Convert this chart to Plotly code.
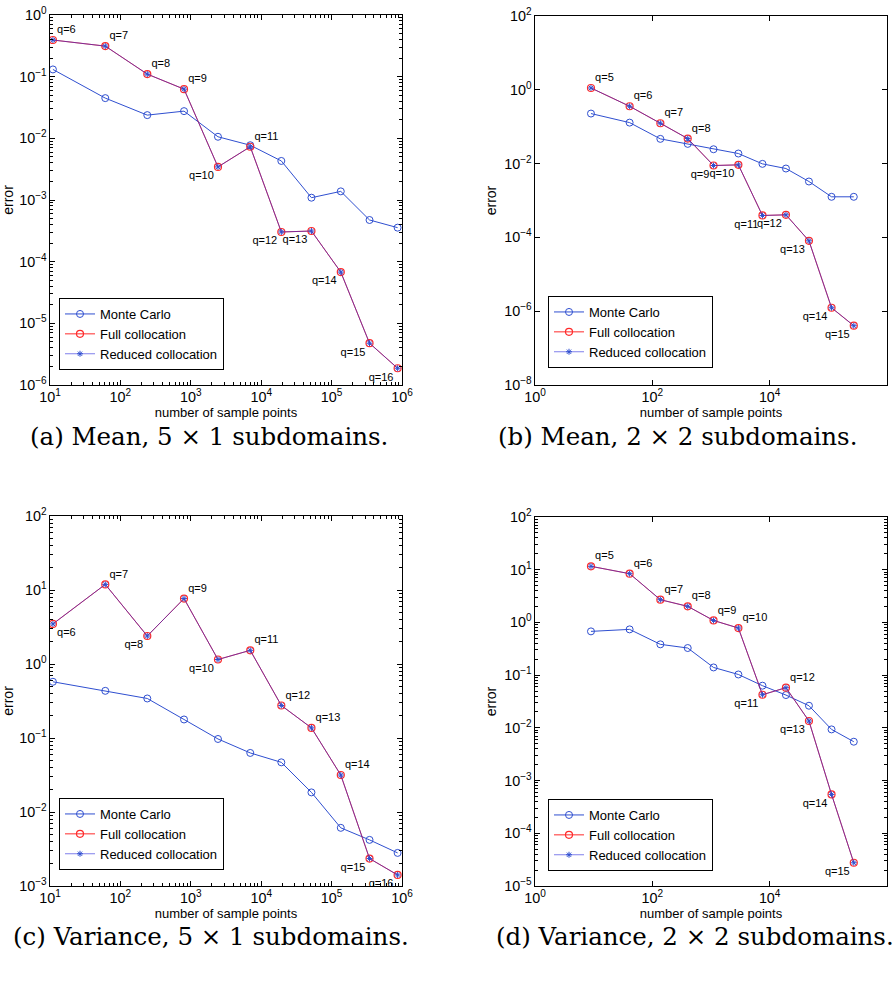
import plotly.graph_objects as go
import numpy as np

# ---------------- data ----------------
# sparse-grid sizes (number of sample points)
N_5x1 = [11, 61, 241, 801, 2433, 6993, 19313, 51713, 135073, 345665, 866465]
N_2x2 = [9, 41, 137, 401, 1105, 2929, 7537, 18945, 46721, 113409, 271617]
Q_5x1 = [6, 7, 8, 9, 10, 11, 12, 13, 14, 15, 16]
Q_2x2 = [5, 6, 7, 8, 9, 10, 11, 12, 13, 14, 15]

# (a) Mean, 5x1
mean5_mc = [0.131, 0.0449, 0.0238, 0.0276, 0.0106, 0.00773, 0.00430, 0.00109, 0.00138, 4.74e-4, 3.56e-4]
mean5_full = [0.393, 0.313, 0.110, 0.0628, 0.00344, 0.00730, 3.03e-4, 3.14e-4, 6.78e-5, 4.76e-6, 1.87e-6]
mean5_red = [0.393, 0.313, 0.110, 0.0628, 0.00344, 0.00730, 3.03e-4, 3.14e-4, 6.78e-5, 4.76e-6, 1.87e-6]

# (b) Mean, 2x2
mean4_mc = [0.227, 0.129, 0.0468, 0.0342, 0.0245, 0.01875, 0.00984, 0.00735, 0.00327, 0.00126, 0.00126]
mean4_full = [1.12, 0.358, 0.124, 0.0477, 0.00887, 0.00924, 3.93e-4, 4.09e-4, 8.09e-5, 1.24e-6, 4.04e-7]
mean4_red = [1.12, 0.358, 0.124, 0.0477, 0.00887, 0.00924, 3.93e-4, 4.09e-4, 8.09e-5, 1.24e-6, 4.04e-7]

# (c) Variance, 5x1
var5_mc = [0.575, 0.434, 0.342, 0.178, 0.0970, 0.0628, 0.0469, 0.0184, 0.00611, 0.00420, 0.00280]
var5_full = [3.48, 11.9, 2.39, 7.66, 1.15, 1.53, 0.275, 0.137, 0.0316, 0.00235, 0.00141]
var5_red = [3.48, 11.9, 2.39, 7.66, 1.15, 1.53, 0.275, 0.137, 0.0316, 0.00235, 0.00141]

# (d) Variance, 2x2
var4_mc = [0.676, 0.738, 0.384, 0.327, 0.140, 0.103, 0.0631, 0.0419, 0.0263, 0.00935, 0.00546]
var4_full = [11.6, 8.41, 2.70, 2.02, 1.09, 0.783, 0.0425, 0.0578, 0.0135, 5.46e-4, 2.76e-5]
var4_red = [11.6, 8.41, 2.70, 2.02, 1.09, 0.783, 0.0425, 0.0578, 0.0135, 5.46e-4, 2.76e-5]

CAPTIONS = ["(a) Mean, 5 × 1 subdomains.", "(b) Mean, 2 × 2 subdomains.",
            "(c) Variance, 5 × 1 subdomains.", "(d) Variance, 2 × 2 subdomains."]
SERIES_NAMES = ["Monte Carlo", "Full collocation", "Reduced collocation"]
X_TITLE = "number of sample points"
Y_TITLE = "error"
# plotly prints 10^0 and 10^1 as "1" and "10": show them as powers like the rest
TICK_ALIAS = {"1": "10<sup>0</sup>", "10": "10<sup>1</sup>"}

# ---------------- styles ----------------
TR, BR, BL = "top right", "bottom right", "bottom left"
LABEL_POS = [
    [TR, TR, TR, TR, BL, TR, BL, BL, BL, BL, BL],
    [TR, TR, TR, TR, BL, BL, BL, BL, BL, BL, BL],
    [BR, TR, BL, TR, BL, TR, TR, TR, TR, BL, BL],
    [TR, TR, TR, TR, TR, TR, BL, TR, BL, BL, BL],
]
SANS = "Liberation Sans, Arial, sans-serif"
SERIF = "DejaVu Serif, serif"
BLUE = "#2f4fd0"
RED = "#ff2a2a"
RED_BLUE_OVER = "rgba(40,40,220,0.6)"

panels = [
    dict(x=N_5x1, q=Q_5x1, mc=mean5_mc, full=mean5_full, red=mean5_red),
    dict(x=N_2x2, q=Q_2x2, mc=mean4_mc, full=mean4_full, red=mean4_red),
    dict(x=N_5x1, q=Q_5x1, mc=var5_mc, full=var5_full, red=var5_red),
    dict(x=N_2x2, q=Q_2x2, mc=var4_mc, full=var4_full, red=var4_red),
]

W, H = 896, 983
# plot areas in pixels (left, right, top, bottom)
AREAS = [(50, 402, 15, 385), (535, 887, 16, 385), (50, 402, 516, 886), (535, 887, 517, 886)]
XRANGES = [(1, 6), (0, 6), (1, 6), (0, 6)]
YRANGES = [(-6, 0), (-8, 2), (-3, 2), (-5, 2)]
XDTICK = [1, 2, 1, 2]
YDTICK = [1, 2, 1, 1]
XMINOR = [True, False, True, False]
YMINOR = [True, False, True, True]
LEGEND_POS = [(59, 298), (548, 296), (59, 798), (548, 799)]
CAPTION_POS = [(209, 436), (496, 436), (211, 936), (494, 936)]
CAPTION_ANCHOR = ["center", "left", "center", "left"]

fig = go.Figure()
layout = dict(width=W, height=H, margin=dict(l=0, r=0, t=0, b=0, autoexpand=False),
              paper_bgcolor="white", plot_bgcolor="white", annotations=[])

for i, p in enumerate(panels):
    k = "" if i == 0 else str(i + 1)
    xa, ya = "x" + k, "y" + k
    leg = "legend" + k
    fig.add_trace(go.Scatter(x=p["x"], y=p["mc"], name=SERIES_NAMES[0], mode="lines+markers",
                             line=dict(color=BLUE, width=1),
                             marker=dict(symbol="circle-open", size=7, color=BLUE, line=dict(width=1)),
                             xaxis=xa, yaxis=ya, legend=leg))
    fig.add_trace(go.Scatter(x=p["x"], y=p["full"], name=SERIES_NAMES[1], mode="lines+markers",
                             line=dict(color=RED, width=1),
                             marker=dict(symbol="circle-open", size=7, color=RED, line=dict(width=1.2)),
                             xaxis=xa, yaxis=ya, legend=leg))
    fig.add_trace(go.Scatter(x=p["x"], y=p["red"], name=SERIES_NAMES[2], mode="lines+markers+text",
                             line=dict(color=RED_BLUE_OVER, width=1),
                             marker=dict(symbol="asterisk-open", size=5, color=BLUE, line=dict(width=1, color=BLUE)),
                             text=["q=%d" % q for q in p["q"]], textposition=LABEL_POS[i],
                             textfont=dict(family=SANS, size=11, color="black"),
                             xaxis=xa, yaxis=ya, legend=leg))
    l, r, t, b = AREAS[i]
    axcommon = dict(type="log", showline=True, linecolor="black", linewidth=1, mirror="ticks",
                    ticks="inside", ticklen=5, tickcolor="black", showgrid=False, zeroline=False,
                    exponentformat="power", labelalias=TICK_ALIAS, automargin=False,
                    tickfont=dict(family=SANS, size=11.5, color="black"))
    xminor = dict(ticks="inside", ticklen=3, tickcolor="black", showgrid=False) if XMINOR[i] else None
    yminor = dict(ticks="inside", ticklen=3, tickcolor="black", showgrid=False) if YMINOR[i] else None
    xd = dict(axcommon, domain=[l / W, r / W], range=list(XRANGES[i]), dtick=XDTICK[i], anchor=ya,
              ticklabelstandoff=-1,
              title=dict(text=X_TITLE, font=dict(family=SANS, size=13, color="black"), standoff=3))
    yd = dict(axcommon, domain=[(H - b) / H, (H - t) / H], range=list(YRANGES[i]), dtick=YDTICK[i], anchor=xa,
              title=dict(text=Y_TITLE, font=dict(family=SANS, size=14, color="black"), standoff=4))
    if xminor:
        xd["minor"] = xminor
    if yminor:
        yd["minor"] = yminor
    layout["xaxis" + k] = xd
    layout["yaxis" + k] = yd
    lx, ly = LEGEND_POS[i]
    layout[leg] = dict(x=lx / W, y=(H - ly) / H, xanchor="left", yanchor="top",
                       bgcolor="white", bordercolor="black", borderwidth=1,
                       font=dict(family=SANS, size=13, color="black"), tracegroupgap=0)
    cx, cy = CAPTION_POS[i]
    layout["annotations"].append(dict(text=CAPTIONS[i], x=cx / W, y=(H - cy) / H, xref="paper", yref="paper",
                                      xanchor=CAPTION_ANCHOR[i], yanchor="middle", showarrow=False,
                                      font=dict(family=SERIF, size=24.5, color="black")))

fig.update_layout(**layout)
# the page's default 8px body margin would shift the figure; remove it
fig.write_html("out.html", config={"displayModeBar": False},
               post_script="document.body.style.margin='0';document.body.style.overflow='hidden';")
